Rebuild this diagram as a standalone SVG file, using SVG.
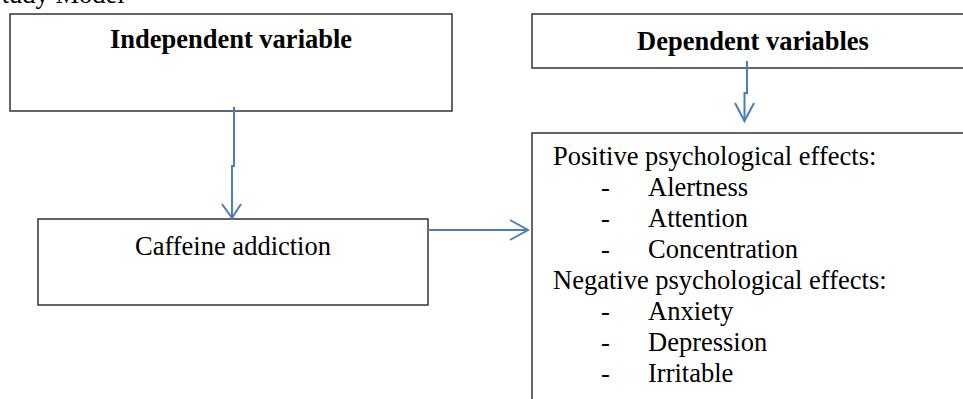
<svg xmlns="http://www.w3.org/2000/svg" width="963" height="399" viewBox="0 0 963 399">
<style>
.box{fill:#fff;stroke:#333;stroke-width:1.5}
.t{font-family:"Liberation Serif","Times New Roman",serif;font-size:26.5px;fill:#000}
.b{font-weight:bold}
.c{fill:none;stroke:#4a7ebb;stroke-width:2}
</style>
<rect width="963" height="399" fill="#fff"/>
<text class="t" x="-13" y="3">Study Model</text>
<g id="independent">
<rect class="box" x="10" y="14" width="442" height="97"/>
<text class="t b" x="231" y="48" text-anchor="middle">Independent variable</text>
</g>
<g id="dependent">
<rect class="box" x="532" y="14" width="450" height="54"/>
<text class="t b" x="753" y="50" text-anchor="middle">Dependent variables</text>
</g>
<g id="caffeine">
<rect class="box" x="38" y="219" width="390" height="86"/>
<text class="t" x="233" y="255" text-anchor="middle">Caffeine addiction</text>
</g>
<g id="effects">
<rect class="box" x="532" y="133" width="450" height="300"/>
<text class="t" x="553" y="165">Positive psychological effects:</text>
<text class="t" x="601" y="196">-</text><text class="t" x="648" y="196">Alertness</text>
<text class="t" x="601" y="227">-</text><text class="t" x="648" y="227">Attention</text>
<text class="t" x="601" y="258">-</text><text class="t" x="648" y="258">Concentration</text>
<text class="t" x="553" y="289">Negative psychological effects:</text>
<text class="t" x="601" y="320">-</text><text class="t" x="648" y="320">Anxiety</text>
<text class="t" x="601" y="351">-</text><text class="t" x="648" y="351">Depression</text>
<text class="t" x="601" y="382">-</text><text class="t" x="648" y="382">Irritable</text>
</g>
<g id="connectors">
<path class="c" d="M234 107V166H232V218"/>
<polyline class="c" points="222,204 232,218 241,204"/>
<path class="c" d="M428 230H528"/>
<polyline class="c" points="510,220 528,230 510,240"/>
<path class="c" d="M747 61V93H744.5V121"/>
<polyline class="c" points="735,103 744.5,121 754,103"/>
</g>
</svg>
